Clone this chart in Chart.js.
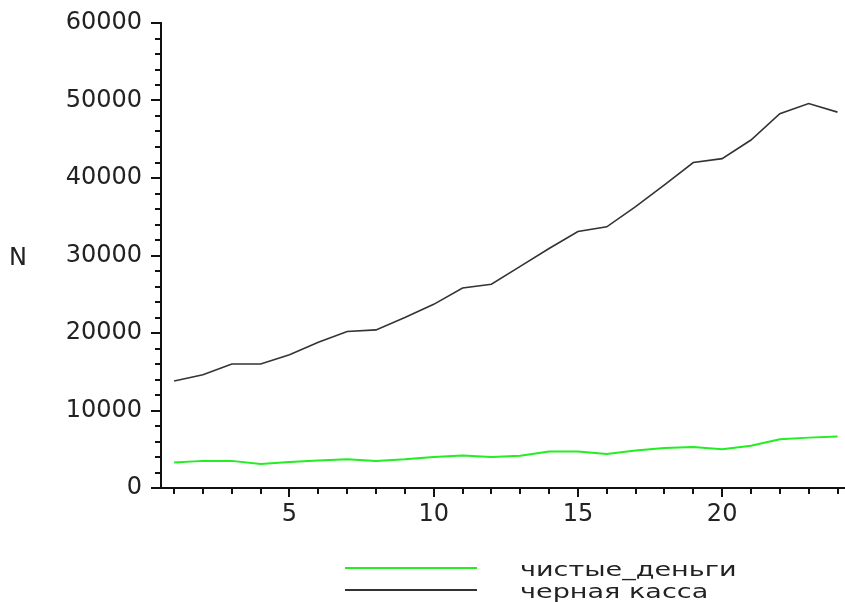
<!DOCTYPE html>
<html>
<head>
<meta charset="utf-8">
<script src="https://cdn.jsdelivr.net/npm/chart.js@4"></script>
<style>
    body { margin: 0; background: #fff; }
    #wrap { position: relative; width: 845px; height: 602px; }
    #yTitle {
        position: absolute; left: 9px; top: 243px;
        font: 24px "DejaVu Sans"; color: #222;
    }
    #legend { position: absolute; left: 345px; top: 557px; }
    .item { position: relative; height: 22px; width: 480px; }
    .swatch { position: absolute; left: 0; top: 10px; width: 132px; height: 2px; }
    .label {
        position: absolute; left: 175px; top: 0px;
        font: 22px "DejaVu Sans"; color: #222;
        transform: scale(1.23, 0.85); transform-origin: left center;
        white-space: nowrap;
    }
</style>
</head>
<body>
<div id="wrap">
    <canvas id="lineChart" width="845" height="602"></canvas>
    <div id="yTitle">N</div>
    <div id="legend"></div>
</div>
<script>
const periods = [1, 2, 3, 4, 5, 6, 7, 8, 9, 10, 11, 12, 13, 14, 15, 16, 17, 18, 19, 20, 21, 22, 23, 24];
const cleanMoney = [3300, 3500, 3500, 3100, 3350, 3550, 3700, 3500, 3700, 4000, 4200, 4000,
                    4150, 4700, 4700, 4400, 4850, 5150, 5300, 5000, 5450, 6300, 6500, 6650];
const blackCash = [13800, 14600, 16000, 16000, 17200, 18800, 20200, 20400, 22000, 23700, 25800, 26300,
                   28600, 30900, 33100, 33700, 36300, 39100, 42000, 42500, 44900, 48300, 49600, 48500];
const seriesNames = ["чистые_деньги", "черная касса"];
const yTitle = "N";

const tickFont = { family: "DejaVu Sans", size: 24 };

// Maple-style tick marks: long ones on labelled values, short ones between
const tickMarks = {
    id: "tickMarks",
    afterDraw(chart) {
        const ctx = chart.ctx;
        const xs = chart.scales.x;
        const ys = chart.scales.y;
        ctx.save();
        ctx.strokeStyle = "#111";
        ctx.lineWidth = 2;
        ctx.beginPath();
        for (let v = 0; v <= 60000; v += 2000) {
            const py = Math.round(ys.getPixelForValue(v));
            const len = v % 10000 === 0 ? 10 : 6;
            ctx.moveTo(ys.right - len, py);
            ctx.lineTo(ys.right, py);
        }
        periods.forEach(v => {
            const px = Math.round(xs.getPixelForValue(v));
            const len = v % 5 === 0 ? 9 : 6;
            ctx.moveTo(px, xs.top);
            ctx.lineTo(px, xs.top + len);
        });
        ctx.stroke();
        ctx.restore();
    }
};

function drawLineChart() {
    const ctx = document.getElementById("lineChart").getContext("2d");

    new Chart(ctx, {
        type: "line",
        data: {
            datasets: [
                {
                    label: seriesNames[0],
                    data: periods.map((p, i) => ({ x: p, y: cleanMoney[i] })),
                    borderColor: "#22ee22",
                    borderWidth: 2,
                    pointRadius: 0,
                    tension: 0
                },
                {
                    label: seriesNames[1],
                    data: periods.map((p, i) => ({ x: p, y: blackCash[i] })),
                    borderColor: "#333333",
                    borderWidth: 1.6,
                    pointRadius: 0,
                    tension: 0
                }
            ]
        },
        options: {
            responsive: false,
            animation: false,
            layout: { padding: { left: 0, top: 23, right: 0, bottom: 0 } },
            plugins: {
                legend: { display: false },
                tooltip: { enabled: false }
            },
            scales: {
                x: {
                    type: "linear",
                    min: 0.545,
                    max: 24.26,
                    grid: { display: false, drawTicks: false },
                    border: { display: true, color: "#111", width: 2 },
                    ticks: {
                        stepSize: 1,
                        includeBounds: false,
                        autoSkip: false,
                        maxRotation: 0,
                        padding: 12,
                        color: "#222",
                        font: tickFont,
                        callback: v => (v % 5 === 0 ? v : "")
                    },
                    afterFit: scale => {
                        scale.height = 114;
                        scale.paddingLeft = 0;
                        scale.paddingRight = 0;
                    }
                },
                y: {
                    min: 0,
                    max: 60000,
                    grid: { display: false, drawTicks: false },
                    border: { display: true, color: "#111", width: 2 },
                    ticks: {
                        stepSize: 2000,
                        autoSkip: false,
                        padding: 19,
                        color: "#222",
                        font: tickFont,
                        callback: v => (v % 10000 === 0 ? v : "")
                    },
                    afterFit: scale => {
                        scale.width = 161;
                        scale.paddingTop = 0;
                        scale.paddingBottom = 0;
                    }
                }
            }
        },
        plugins: [tickMarks]
    });
}

function drawLegend() {
    const colors = ["#22ee22", "#333333"];
    const box = document.getElementById("legend");
    seriesNames.forEach((name, i) => {
        const item = document.createElement("div");
        item.className = "item";
        item.innerHTML = `<div class="swatch" style="background:${colors[i]}"></div>
                          <span class="label">${name}</span>`;
        box.appendChild(item);
    });
    document.getElementById("yTitle").textContent = yTitle;
}

drawLineChart();
drawLegend();
</script>
</body>
</html>
